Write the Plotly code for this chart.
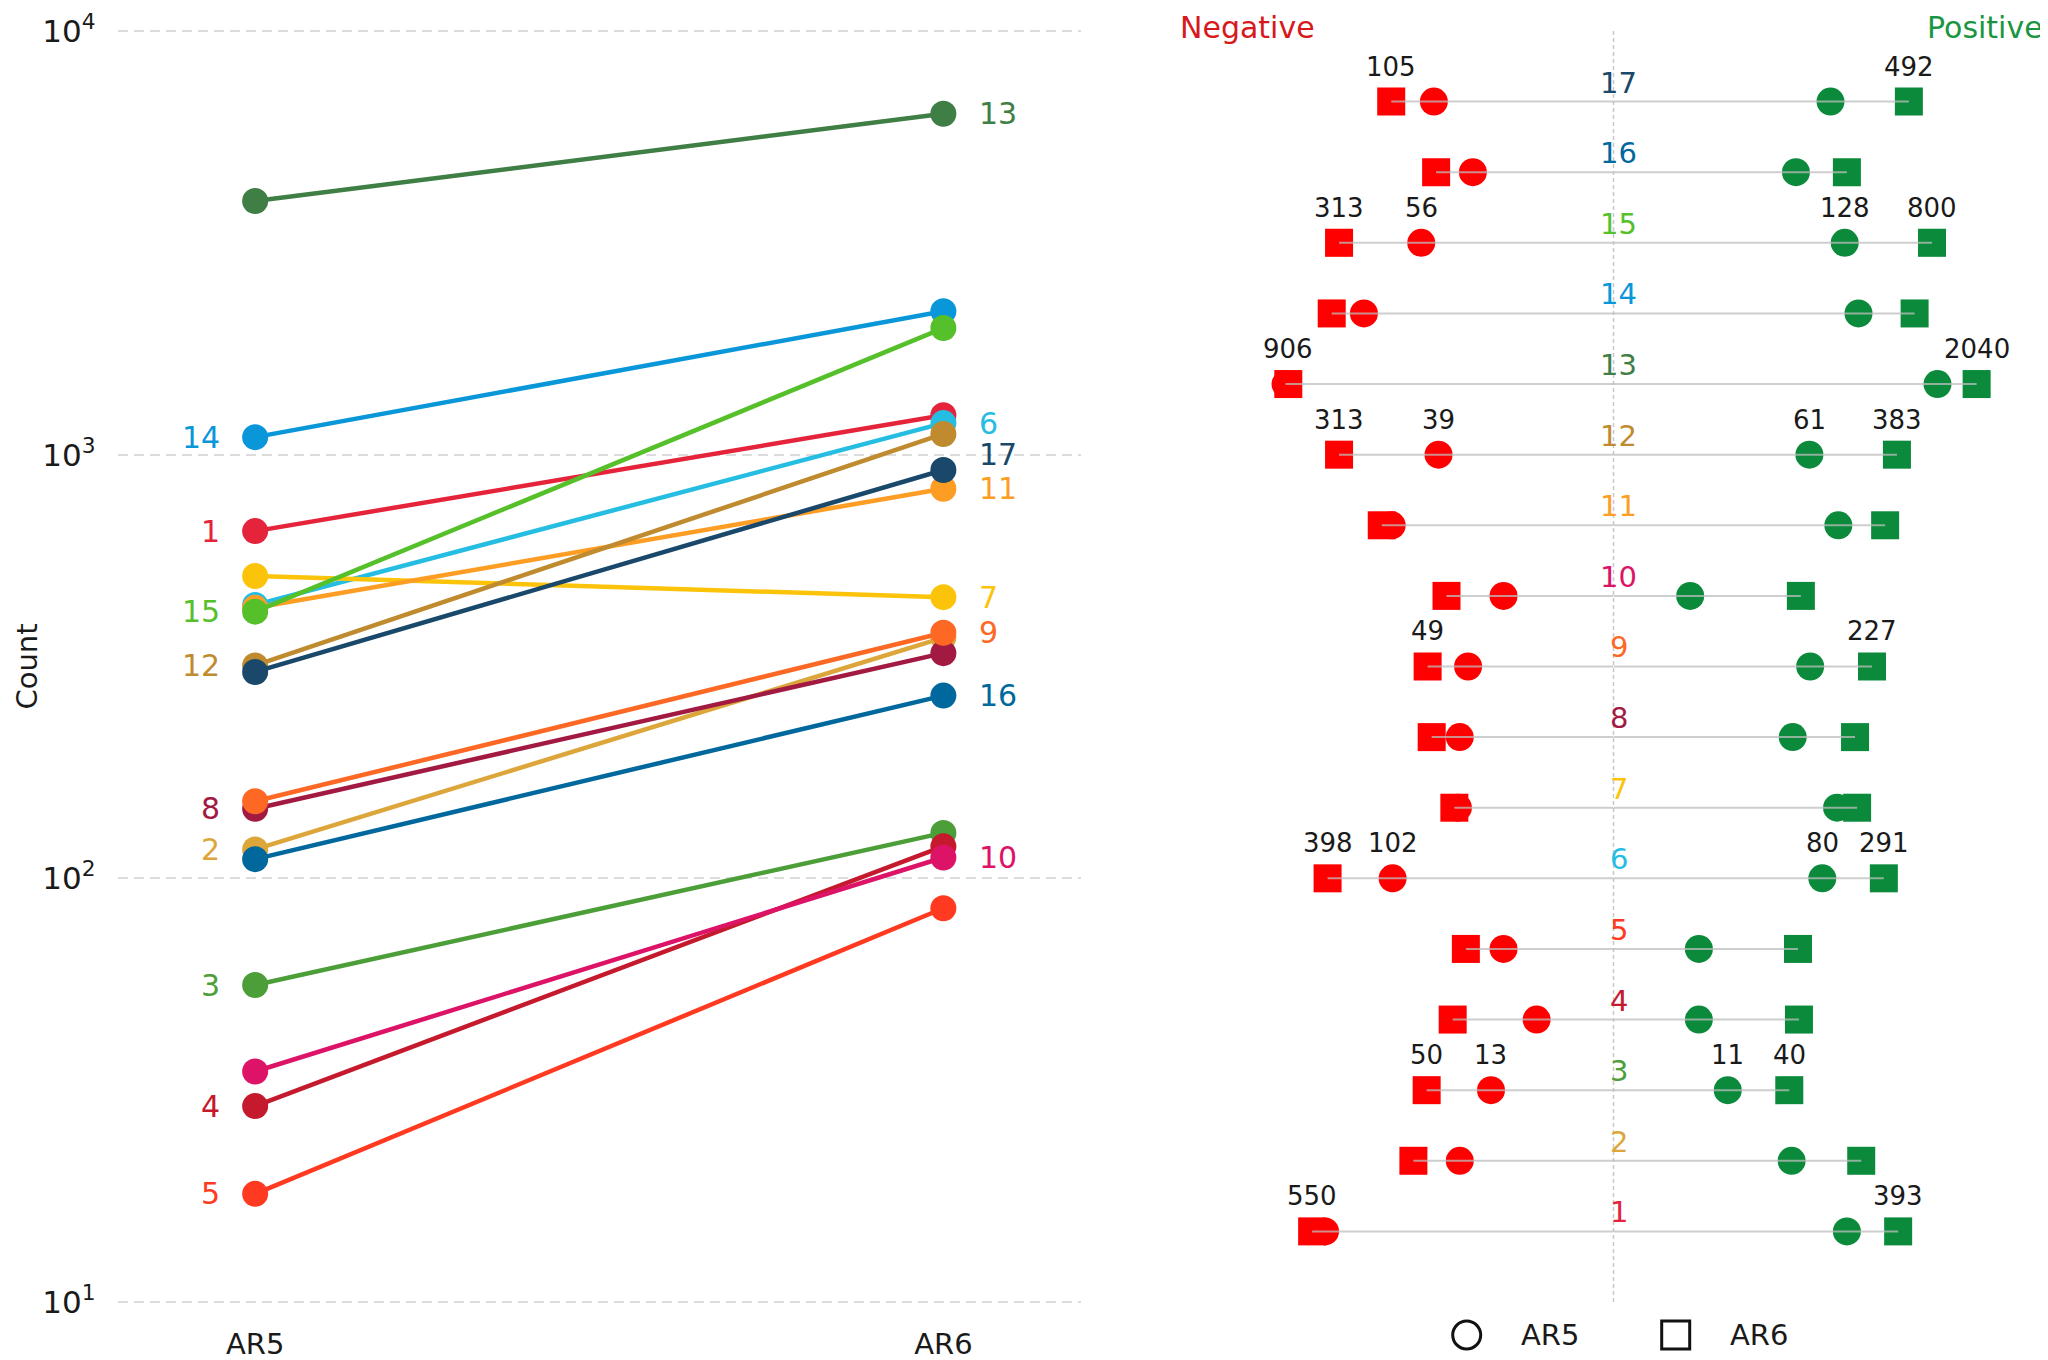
import numpy as np
import plotly.graph_objects as go

# ---------------- data ----------------
categories = list(range(1, 18))
sdg_colors = ["#E5243B", "#DDA63A", "#4C9F38", "#C5192D", "#FF3A21", "#26BDE2",
              "#FCC30B", "#A21942", "#FD6925", "#DD1367", "#FD9D24", "#BF8B2E",
              "#3F7E44", "#0A97D9", "#56C02B", "#00689D", "#19486A"]
periods = ["AR5", "AR6"]

# left panel: total counts per category
count_ar5 = [660, 117, 56, 29, 18, 442, 517, 146, 152, 35, 435, 318, 3970, 1100, 426, 111, 307]
count_ar6 = [1239, 370, 128, 119, 85, 1187, 461, 340, 380, 112, 831, 1119, 6380, 2180, 1990, 270, 920]
label_side = ["AR5", "AR5", "AR5", "AR5", "AR5", "AR6", "AR6", "AR5", "AR6",
              "AR6", "AR6", "AR5", "AR6", "AR5", "AR5", "AR6", "AR6"]

# right panel: negative / positive counts per category
neg_ar5 = [420, 25, 13, 5, 10, 102, 26, 25, 21, 10, 104, 39, 960, 186, 56, 19, 43]
neg_ar6 = [550, 66, 50, 29, 22, 398, 28, 45, 49, 33, 128, 313, 906, 365, 313, 41, 105]
pos_ar5 = [134, 42, 11, 6, 6, 80, 109, 43, 62, 5, 112, 61, 897, 171, 128, 46, 95]
pos_ar6 = [393, 181, 40, 49, 48, 291, 166, 159, 227, 51, 299, 383, 2040, 555, 800, 134, 492]
ar6_labelled = [1, 3, 6, 9, 12, 13, 15, 17]
ar5_labelled = [3, 6, 12, 15]

legend_labels = ["AR5", "AR6"]
legend_symbols = ["circle-open", "square-open"]

# ---------------- layout geometry ----------------
# the page body has an 8px margin, so the figure is 8px smaller than the window
OFF = 8
FW, FH = 2048 - OFF, 1360 - OFF


def px(xp):
    return (xp - OFF) / FW


def py(yp):
    return 1 - (yp - OFF) / FH


FONT = "DejaVu Sans"
NEG_COLOR = "#d7191c"
POS_COLOR = "#1a9641"
MARK_RED = "#ff0000"
MARK_GREEN = "#0a8a3a"
TXT = "#1a1a1a"

ext = 0.005          # tiny extension so the edge gridlines are drawn
dec_px = 423.7       # pixels per decade
y_dom = [py(1302 + ext * dec_px), py(31 - ext * dec_px)]
left_dom = [px(117.5), px(1081)]
center_px = 1613.5
neg_dom = [px(1178), px(center_px)]
pos_dom = [px(center_px), 1.0]
half_decades = 3.96

fig = go.Figure()

# ---------------- left panel ----------------
for i, c in enumerate(categories):
    fig.add_trace(go.Scatter(
        x=periods, y=[count_ar5[i], count_ar6[i]],
        mode="lines+markers",
        line=dict(color=sdg_colors[i], width=4.5),
        marker=dict(color=sdg_colors[i], size=26),
        xaxis="x", yaxis="y", showlegend=False, hoverinfo="skip"))

annotations = []
for i, c in enumerate(categories):
    side = label_side[i]
    val = count_ar5[i] if side == "AR5" else count_ar6[i]
    annotations.append(dict(
        x=side, y=np.log10(val), xref="x", yref="y",
        text=str(c), showarrow=False,
        xanchor="right" if side == "AR5" else "left",
        xshift=-33 if side == "AR5" else 34,
        yshift=16 if c == 17 else 0,
        font=dict(family=FONT, size=30, color=sdg_colors[i])))

annotations.append(dict(
    x=px(26), y=(y_dom[0] + y_dom[1]) / 2, xref="paper", yref="paper",
    text="Count", textangle=-90, showarrow=False, xanchor="center", yanchor="middle",
    font=dict(family=FONT, size=29, color=TXT)))

# ---------------- right panel ----------------
# connecting grey lines (outermost negative -> centre -> outermost positive)
neg_lx, neg_ly, pos_lx, pos_ly = [], [], [], []
for i, c in enumerate(categories):
    neg_lx += [max(neg_ar5[i], neg_ar6[i]), 1, None]
    neg_ly += [c, c, None]
    pos_lx += [1, max(pos_ar5[i], pos_ar6[i]), None]
    pos_ly += [c, c, None]

for xs, sym, col, xa in [
    (neg_ar6, "square", MARK_RED, "x2"),
    (neg_ar5, "circle", MARK_RED, "x2"),
    (pos_ar5, "circle", MARK_GREEN, "x3"),
    (pos_ar6, "square", MARK_GREEN, "x3"),
]:
    fig.add_trace(go.Scatter(
        x=xs, y=categories, mode="markers",
        marker=dict(symbol=sym, size=28, color=col),
        xaxis=xa, yaxis="y2", showlegend=False, hoverinfo="skip"))

fig.add_trace(go.Scatter(x=neg_lx, y=neg_ly, mode="lines",
                         line=dict(color="rgba(190,190,190,0.75)", width=2),
                         xaxis="x2", yaxis="y2", showlegend=False, hoverinfo="skip"))
fig.add_trace(go.Scatter(x=pos_lx, y=pos_ly, mode="lines",
                         line=dict(color="rgba(190,190,190,0.75)", width=2),
                         xaxis="x3", yaxis="y2", showlegend=False, hoverinfo="skip"))

# category labels in the middle
for i, c in enumerate(categories):
    annotations.append(dict(
        x=px(center_px), y=c, xref="paper", yref="y2",
        text=str(c), showarrow=False, xanchor="center", yanchor="middle",
        xshift=5, yshift=19,
        font=dict(family=FONT, size=29, color=sdg_colors[i])))


# value labels
def add_val(v, xref, c):
    annotations.append(dict(
        x=np.log10(v), y=c, xref=xref, yref="y2", text=str(v),
        showarrow=False, xanchor="center", yanchor="middle", yshift=35,
        font=dict(family=FONT, size=26, color=TXT)))


for i, c in enumerate(categories):
    if c in ar6_labelled:
        add_val(neg_ar6[i], "x2", c)
        add_val(pos_ar6[i], "x3", c)
    if c in ar5_labelled:
        add_val(neg_ar5[i], "x2", c)
        add_val(pos_ar5[i], "x3", c)

annotations.append(dict(x=px(1178), y=1, xref="paper", yref="paper", text="Negative",
                        showarrow=False, xanchor="left", yanchor="top", yshift=0,
                        font=dict(family=FONT, size=30, color=NEG_COLOR)))
annotations.append(dict(x=px(2045), y=1, xref="paper", yref="paper", text="Positive",
                        showarrow=False, xanchor="right", yanchor="top", yshift=0,
                        font=dict(family=FONT, size=30, color=POS_COLOR)))

# ---------------- custom legend ----------------
for lab, sym in zip(legend_labels, legend_symbols):
    fig.add_trace(go.Scatter(
        x=[lab], y=[0], mode="markers",
        marker=dict(symbol=sym, size=28, color="#111111", line=dict(width=3, color="#111111")),
        xaxis="x4", yaxis="y4", showlegend=False, hoverinfo="skip"))
    annotations.append(dict(x=lab, y=0, xref="x4", yref="y4", text=lab, showarrow=False,
                            xanchor="left", yanchor="middle", xshift=52,
                            font=dict(family=FONT, size=29, color=TXT)))

shapes = [dict(type="line", xref="paper", yref="y2", x0=px(center_px), x1=px(center_px),
               y0=0, y1=18, line=dict(color="#c8c8c8", width=1.5, dash="4px,3px"),
               layer="below")]

hidden = dict(showgrid=False, zeroline=False, showline=False, showticklabels=False,
              ticks="", automargin=False)

leg_y = py(1335)
fig.update_layout(
    template="none",
    width=FW, height=FH,
    margin=dict(l=0, r=0, t=0, b=0, autoexpand=False),
    paper_bgcolor="white", plot_bgcolor="white",
    font=dict(family=FONT, size=29, color=TXT),
    showlegend=False,
    xaxis=dict(domain=left_dom, anchor="y", type="category", range=[-0.2, 1.2],
               showgrid=False, zeroline=False, showline=False, ticks="", automargin=False,
               tickfont=dict(family=FONT, size=29, color=TXT),
               ticklabelstandoff=20),
    yaxis=dict(domain=y_dom, anchor="x", type="log", range=[1 - ext, 4 + ext],
               tickvals=[10, 100, 1000, 10000],
               ticktext=["10<sup>1</sup>", "10<sup>2</sup>", "10<sup>3</sup>", "10<sup>4</sup>"],
               showgrid=True, gridcolor="#dcdcdc", gridwidth=2, griddash="10px,6px",
               zeroline=False, showline=False, ticks="", automargin=False,
               tickfont=dict(family=FONT, size=31, color=TXT),
               ticklabelstandoff=21),
    xaxis2=dict(domain=neg_dom, anchor="y2", type="log", range=[half_decades, 0], **hidden),
    xaxis3=dict(domain=pos_dom, anchor="y2", type="log", range=[0, half_decades], **hidden),
    yaxis2=dict(domain=[py(1302), py(31)], anchor="x2", range=[0, 18], **hidden),
    xaxis4=dict(domain=[px(1362.2), px(1780.2)], anchor="y4", type="category",
                range=[-0.5, 1.5], **hidden),
    yaxis4=dict(domain=[0.0, 2 * leg_y], anchor="x4", range=[-1, 1], **hidden),
    annotations=annotations,
    shapes=shapes,
)

fig.write_html("out.html")
